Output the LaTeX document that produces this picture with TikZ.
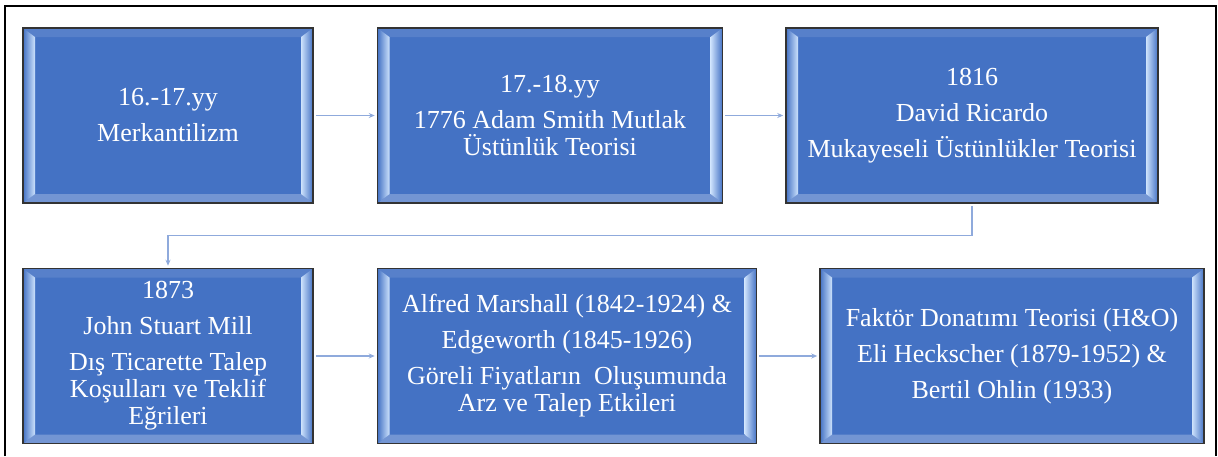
\documentclass[tikz,border=0pt]{standalone}
\usepackage{fontspec}
\setmainfont{Liberation Serif}
\usepackage{xcolor}
\usetikzlibrary{arrows.meta, positioning, calc}

\definecolor{eraBlue}{RGB}{68,114,196}
\definecolor{eraPale}{RGB}{205,226,252}
\definecolor{eraLink}{RGB}{143,170,220}

\begin{document}
\begin{tikzpicture}[
    x=1pt, y=-1pt,
    >=Stealth,
    font=\fontsize{26}{27}\selectfont,
    % Bevelled Blue Boxes
    era/.style={rectangle, draw=black!80, line width=1.5pt, fill=eraBlue, text=white, align=center, minimum height=175pt, inner sep=0pt,
      path picture={
        \fill[eraBlue!90!white] (path picture bounding box.north west) -- ([shift={(12pt,-9pt)}]path picture bounding box.north west) -- ([shift={(-12pt,-9pt)}]path picture bounding box.north east) -- (path picture bounding box.north east) -- cycle;
        \fill[eraBlue!75!white] (path picture bounding box.south west) -- ([shift={(12pt,9pt)}]path picture bounding box.south west) -- ([shift={(-12pt,9pt)}]path picture bounding box.south east) -- (path picture bounding box.south east) -- cycle;
        \shade[left color=eraBlue, right color=eraPale] (path picture bounding box.south west) -- ([shift={(12pt,9pt)}]path picture bounding box.south west) -- ([shift={(12pt,-9pt)}]path picture bounding box.north west) -- (path picture bounding box.north west) -- cycle;
        \shade[left color=eraPale, right color=eraBlue] (path picture bounding box.south east) -- ([shift={(-12pt,9pt)}]path picture bounding box.south east) -- ([shift={(-12pt,-9pt)}]path picture bounding box.north east) -- (path picture bounding box.north east) -- cycle;
      }},
    link/.style={->, line width=1.3pt, draw=eraLink, shorten <=2pt, shorten >=2pt, arrows={-Stealth[length=6pt, width=5pt]}}
]
\useasboundingbox (0,0) rectangle (1218,456);

% ========================================================
% Outer frame
% ========================================================
\draw[line width=2pt] (5,456) -- (5,6) -- (1216,6) -- (1216,456);

% ========================================================
% ROW 1: Merkantilizm -> Smith -> Ricardo
% ========================================================

\node[era, minimum width=290pt] (merk) at (168,115.5) {16.-17.yy\\[9pt]Merkantilizm};

\node[era, minimum width=345pt, right=63pt of merk] (smith) {17.-18.yy\\[9pt]1776 Adam Smith Mutlak\\Üstünlük Teorisi};
\draw[link] (merk) -- (smith);

\node[era, minimum width=372pt, right=62pt of smith] (ricardo) {1816\\[9pt]David Ricardo\\[9pt]Mukayeseli Üstünlükler Teorisi};
\draw[link] (smith) -- (ricardo);

% ========================================================
% ROW 2: Mill -> Marshall & Edgeworth -> H&O
% ========================================================

\node[era, minimum width=290pt, below=64pt of merk] (mill) {1873\\[9pt]John Stuart Mill\\[9pt]Dış Ticarette Talep\\Koşulları ve Teklif\\Eğrileri};

% Row break connector
\draw[link] (ricardo.south) -- ++(0,32) -| (mill.north);

\node[era, minimum width=379pt, right=63pt of mill] (marshall) {Alfred Marshall (1842-1924) \&\\[9pt]Edgeworth (1845-1926)\\[9pt]Göreli Fiyatların\ \ Oluşumunda\\Arz ve Talep Etkileri};
\draw[link] (mill) -- (marshall);

\node[era, minimum width=384pt, right=62pt of marshall] (ohlin) {Faktör Donatımı Teorisi (H\&O)\\[9pt]Eli Heckscher (1879-1952) \&\\[9pt]Bertil Ohlin (1933)};
\draw[link] (marshall) -- (ohlin);

\end{tikzpicture}
\end{document}
